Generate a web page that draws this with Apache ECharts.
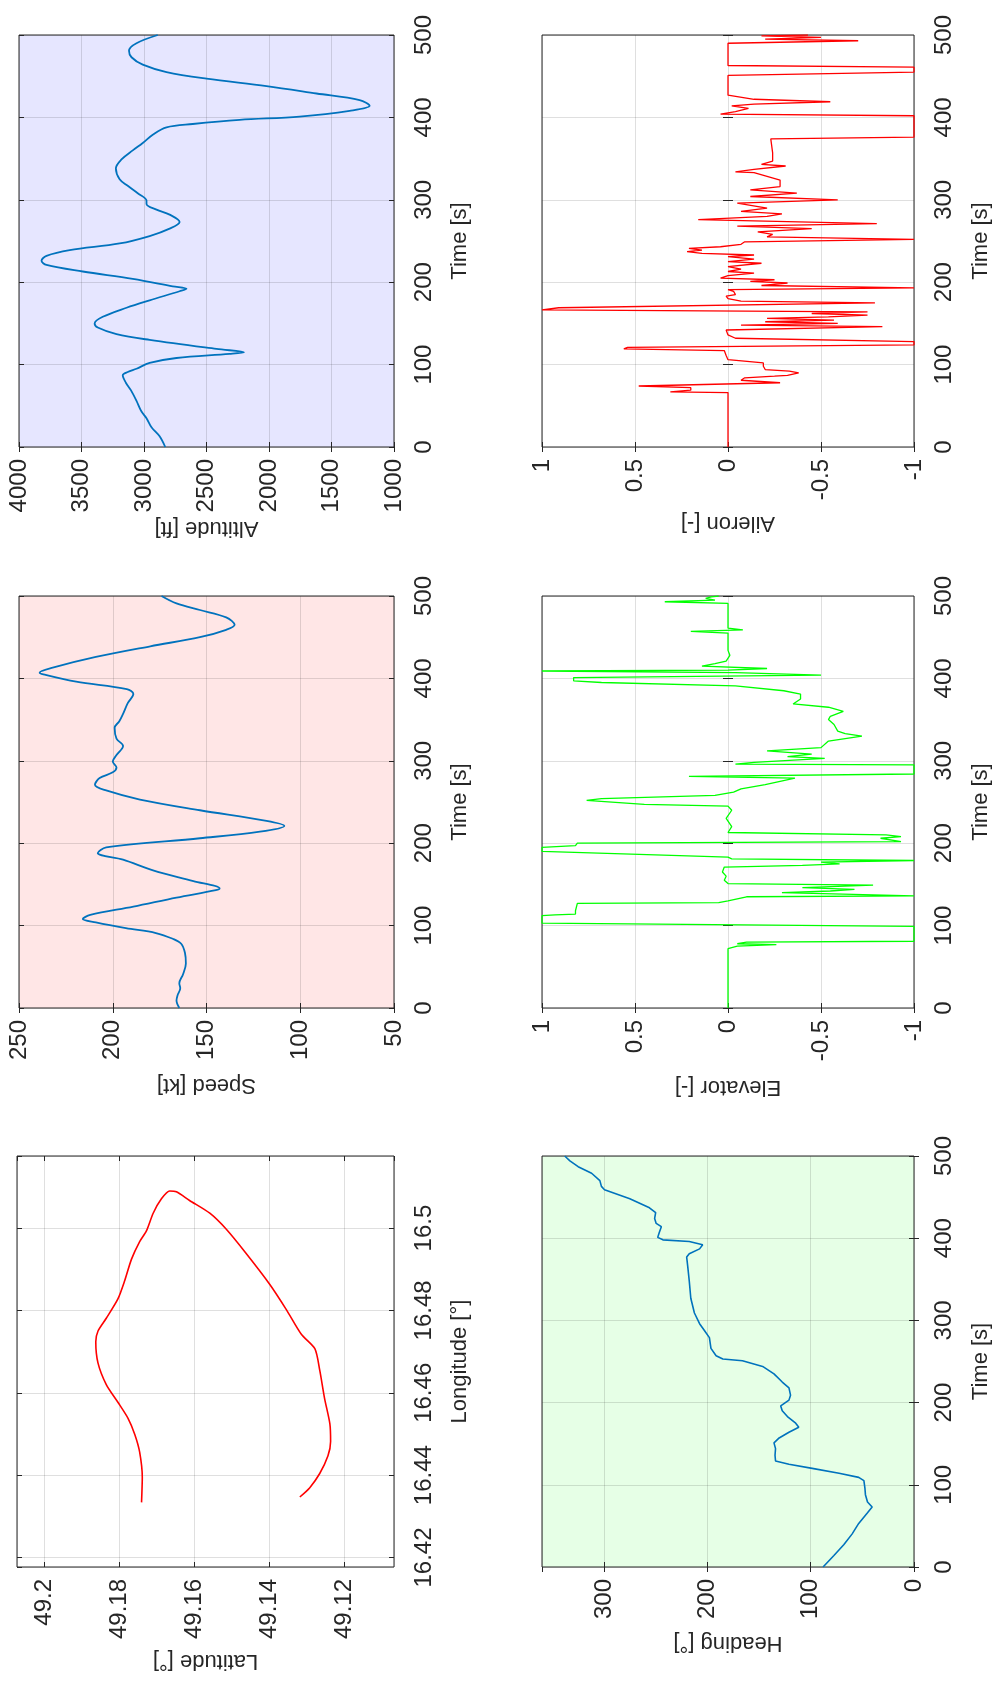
<!DOCTYPE html>
<html>
<head>
<meta charset="utf-8">
<title>Flight log</title>
<script src="https://cdn.jsdelivr.net/npm/echarts@6/dist/echarts.min.js"></script>
<style>
  html, body { margin: 0; padding: 0; background: #fff; }
  #chart { width: 993px; height: 1685px; }
</style>
</head>
<body>
<div id="chart"></div>
<script>
// values (time in s)
const altTime = [0, 13, 24, 35, 43, 56, 69, 78, 87, 91, 95, 102, 108, 113, 115, 119, 130, 137, 145, 150, 158, 169, 178, 189, 192, 195, 204, 213, 221, 226, 232, 239, 247, 256, 265, 273, 282, 288, 295, 299, 308, 317, 325, 338, 349, 360, 369, 379, 388, 392, 397, 401, 408, 414, 421, 429, 438, 447, 455, 464, 473, 481, 490, 500]
const altValue = [2830, 2875, 2940, 2980, 3020, 3060, 3105, 3145, 3170, 3130, 3060, 2955, 2740, 2315, 2200, 2420, 2955, 3220, 3370, 3395, 3330, 3140, 2955, 2715, 2660, 2770, 3090, 3490, 3780, 3820, 3780, 3595, 3195, 2955, 2795, 2715, 2795, 2900, 2980, 2980, 3050, 3130, 3195, 3225, 3180, 3090, 3010, 2930, 2820, 2610, 2235, 1755, 1355, 1195, 1275, 1620, 2020, 2500, 2820, 3010, 3100, 3120, 3060, 2890]

const spdTime = [0, 9, 15, 24, 30, 41, 54, 67, 78, 84, 91, 97, 104, 108, 113, 123, 134, 143, 145, 154, 167, 180, 188, 195, 206, 214, 221, 227, 240, 253, 264, 271, 279, 286, 292, 299, 307, 318, 327, 340, 348, 357, 370, 381, 387, 396, 405, 407, 413, 426, 439, 450, 459, 465, 474, 483, 491, 500]
const spdValue = [164.5, 166, 165.5, 164, 164.5, 162.5, 161, 161.5, 163.5, 168, 177, 193, 209, 216, 212, 189, 166, 145, 143, 157, 178.5, 194.5, 208, 203.5, 153.5, 121.5, 108.5, 118, 153.5, 185.5, 203.5, 209.5, 207, 200, 198, 200, 198, 194.5, 198, 199, 196.5, 194.5, 192, 189, 192.5, 219.5, 237, 239, 232, 209, 180, 153.5, 139.5, 135, 139.5, 153.5, 166, 174]

const hdgTime = [0, 14, 27, 40, 53, 66, 73, 79, 88, 96, 105, 109, 114, 120, 125, 129, 136, 144, 151, 157, 164, 170, 175, 183, 190, 196, 203, 209, 218, 225, 235, 244, 251, 253, 257, 266, 279, 288, 296, 309, 327, 348, 366, 377, 381, 387, 392, 396, 398, 401, 407, 414, 418, 424, 431, 437, 448, 459, 463, 470, 479, 487, 494, 500]
const hdgValue = [88, 77.5, 68, 60, 53.5, 45, 40.5, 45, 47, 47.5, 48.5, 53.5, 72.5, 98.5, 121, 134, 134.5, 134, 135.5, 130.5, 121, 111.5, 114.5, 122.5, 127.5, 129, 121, 119.5, 121, 127.5, 135.5, 146.5, 166, 185, 191.5, 196.5, 198, 203, 207.5, 212.5, 216, 217.5, 219, 220, 217.5, 207.5, 204.5, 217.5, 243, 248, 246.5, 244.5, 249.5, 251, 250, 256, 275, 299.5, 302.5, 304, 312, 325, 333, 338]

const elevTime = [0, 72, 75, 77, 78, 80, 81, 99, 103, 112, 113, 114, 118, 127, 128, 130, 135, 136, 140, 142, 144, 146, 149, 151, 155, 160, 165, 171, 173, 175, 177, 179, 181, 183, 190, 195, 197, 200, 202, 206, 208, 210, 213, 220, 230, 240, 245, 247, 252, 254, 258, 262, 266, 271, 279, 281, 284, 295, 296, 298, 303, 305, 308, 312, 316, 324, 330, 333, 336, 344, 350, 354, 360, 365, 369, 375, 381, 385, 391, 395, 397, 401, 404, 407, 409, 410, 412, 415, 418, 421, 428, 434, 455, 457, 459, 461, 491, 493, 495, 497, 499, 500]
const elevValue = [0, 0, -0.05, -0.26, -0.05, -0.1, -1, -1, 1, 1, 0.93, 0.82, 0.82, 0.81, 0.05, 0, -0.1, -1, -0.29, -0.55, -0.68, -0.4, -0.78, 0, 0.02, 0.01, 0.03, 0.02, -0.4, -0.6, -0.5, -1, -0.02, 0, 1, 1, 0.82, 0.81, -0.93, -0.82, -0.93, -0.85, 0, -0.02, 0.01, -0.02, 0, 0.45, 0.76, 0.68, 0.07, -0.03, -0.07, -0.2, -0.36, 0.21, -1, -1, -0.04, -0.14, -0.52, -0.32, -0.45, -0.21, -0.5, -0.54, -0.72, -0.63, -0.59, -0.57, -0.54, -0.55, -0.62, -0.54, -0.35, -0.39, -0.39, -0.3, -0.04, 0.68, 0.83, 0.83, -0.5, -0.04, 1, 0, -0.21, 0.14, 0.07, 0.01, -0.01, 0, 0, 0.2, -0.08, 0, 0, 0.34, 0.07, 0.12, 0.09, 0.05]

const ailTime = [0, 66, 67, 69, 72, 74, 76, 78, 81, 84, 86, 87, 90, 92, 94, 98, 102, 106, 111, 117, 119, 121, 124, 128, 132, 136, 142, 146, 148, 150, 152, 154, 156, 158, 160, 162, 164, 166.5, 169, 175, 177, 180, 183, 185, 189, 191, 193, 196, 199, 201, 203, 205, 208, 211, 213, 216, 219, 223, 225, 228, 231, 233, 235, 237, 239, 241, 243, 246, 249, 252, 255, 258, 261, 265, 268, 271, 276, 280, 283, 286, 290, 296, 300, 304, 308, 312, 316, 324, 333, 334, 337, 341, 343, 347, 357, 374, 376, 402, 404, 407, 411, 414, 416, 419, 422, 427, 451, 455, 461, 463, 490, 493, 495, 497, 499, 500]
const ailValue = [0, 0, 0.31, 0.2, 0.2, 0.48, 0.47, -0.28, -0.07, -0.09, -0.25, -0.32, -0.38, -0.33, -0.2, -0.19, -0.19, 0, 0.01, 0.02, 0.56, 0.54, -1, -1, -0.04, 0, 0.01, -0.83, -0.07, -0.59, -0.2, -0.57, -0.21, -0.54, -0.75, -0.45, -0.75, 1, 0.91, -0.79, -0.07, 0, 0.01, -0.04, -0.03, 0, -1, -0.18, -0.32, -0.12, -0.25, 0.04, 0, -0.14, 0, -0.07, 0, -0.18, 0, -0.14, 0, -0.14, 0.14, 0.22, 0.14, 0.21, 0.04, -0.07, -0.09, -1, -0.21, -0.24, -0.16, -0.45, -0.05, -0.8, 0.16, -0.21, -0.29, -0.07, -0.21, -0.05, -0.59, -0.12, -0.37, -0.12, -0.28, -0.28, -0.14, -0.04, -0.14, -0.31, -0.18, -0.24, -0.24, -0.23, -1, -1, 0.04, -0.04, -0.11, -0.02, -0.14, -0.55, -0.14, 0, 0, -1, -1, 0, 0, -0.7, -0.2, -0.5, -0.18, -0.43]

// ground track
const lonValue = [16.4334, 16.4395, 16.4456, 16.4499, 16.4538, 16.4577, 16.4620, 16.4672, 16.4724, 16.4750, 16.4781, 16.4828, 16.4872, 16.4924, 16.4967, 16.4993, 16.5036, 16.5071, 16.5090, 16.5088, 16.5067, 16.5036, 16.4997, 16.4937, 16.4863, 16.4802, 16.4742, 16.4707, 16.4655, 16.4586, 16.4525, 16.4482, 16.4447, 16.4404, 16.4369, 16.4347]
const latValue = [49.1740, 49.1738, 49.1745, 49.1758, 49.1776, 49.1803, 49.1834, 49.1856, 49.1862, 49.1856, 49.1834, 49.1803, 49.1785, 49.1767, 49.1745, 49.1727, 49.1709, 49.1687, 49.1665, 49.1647, 49.1612, 49.1558, 49.1514, 49.1460, 49.1398, 49.1354, 49.1314, 49.1278, 49.1265, 49.1252, 49.1238, 49.1236, 49.1243, 49.1265, 49.1292, 49.1318]
const latRange = [49.1067, 49.2072]
const lonRange = [16.4177, 16.5175]

const TEXT = '#262626'
const BOX = '#262626'
const GRID_LINE = 'rgba(38, 38, 38, 0.15)'
const FONT = 'Liberation Sans'
const BLUE = '#0072BD'

// figure is printed rotated: the quantity runs along the bottom (reversed),
// time runs up the right-hand side
const pairs = (vals, ts) => ts.map((t, i) => [vals[i], t])
const plainNumber = (v) => String(+v.toFixed(6))

const panels = [
  { left: 19, top: 35, width: 375, height: 412, bg: '#E6E6FF',
    xName: 'Altitude [ft]', xMin: 1000, xMax: 4000, xStep: 500, xGap: 70,
    data: pairs(altValue, altTime), color: BLUE, width_: 1.8, smooth: 0.35 },
  { left: 19, top: 596, width: 375, height: 412, bg: '#FFE6E6',
    xName: 'Speed [kt]', xMin: 50, xMax: 250, xStep: 50, xGap: 66,
    data: pairs(spdValue, spdTime), color: BLUE, width_: 1.8, smooth: 0.35 },
  { left: 17, top: 1156, width: 377, height: 411, bg: '#FFFFFF',
    xName: 'Latitude [°]', xMin: latRange[0], xMax: latRange[1], xGap: 83, xEdge: [false, false],
    yName: 'Longitude [°]', yMin: lonRange[0], yMax: lonRange[1], yEdge: [false, false],
    data: pairs(latValue, lonValue), color: '#FF0000', width_: 1.6, smooth: 0.25 },
  { left: 542, top: 35, width: 372, height: 412, bg: '#FFFFFF',
    xName: 'Aileron [-]', xMin: -1, xMax: 1, xStep: 0.5, xGap: 65,
    data: pairs(ailValue, ailTime), color: '#FF0000', width_: 1.3 },
  { left: 542, top: 596, width: 372, height: 412, bg: '#FFFFFF',
    xName: 'Elevator [-]', xMin: -1, xMax: 1, xStep: 0.5, xGap: 68,
    data: pairs(elevValue, elevTime), color: '#00FF00', width_: 1.3 },
  { left: 542, top: 1156, width: 372, height: 411, bg: '#E6FFE6',
    xName: 'Heading [°]', xMin: 0, xMax: 360, xStep: 100, xGap: 65, xEdge: [true, false],
    data: pairs(hdgValue, hdgTime), color: BLUE, width_: 1.6 }
]

const option = { animation: false, backgroundColor: '#fff', grid: [], xAxis: [], yAxis: [], series: [] }

const tickStyle = { inside: true, length: 5, lineStyle: { color: BOX, width: 1 } }
const labelStyle = { color: TEXT, fontSize: 24, fontFamily: FONT, formatter: plainNumber }
const nameStyle = { color: TEXT, fontSize: 22, fontFamily: FONT }

panels.forEach((p, i) => {
  option.grid.push({
    left: p.left, top: p.top, width: p.width, height: p.height,
    show: true, backgroundColor: p.bg, borderColor: BOX, borderWidth: 1,
    containLabel: false, outerBoundsMode: 'none'
  })

  const xEdge = p.xEdge || [true, true]
  const yEdge = p.yEdge || [true, true]
  const xBase = { gridIndex: i, type: 'value', inverse: true, min: p.xMin, max: p.xMax, interval: p.xStep }
  const yBase = { gridIndex: i, type: 'value',
    min: p.yMin ?? 0, max: p.yMax ?? 500, interval: p.yName ? undefined : 100 }

  option.xAxis.push({
    ...xBase, position: 'bottom',
    name: p.xName, nameLocation: 'middle', nameRotate: 180, nameGap: p.xGap,
    nameMoveOverlap: false, nameTextStyle: nameStyle,
    axisLine: { show: false },
    axisTick: tickStyle,
    axisLabel: { ...labelStyle, rotate: 90, margin: 12, showMinLabel: xEdge[0], showMaxLabel: xEdge[1] },
    splitLine: { show: true, lineStyle: { color: GRID_LINE, width: 1 } }
  })
  option.xAxis.push({
    ...xBase, position: 'top',
    axisLine: { show: false }, axisTick: tickStyle,
    axisLabel: { show: false }, splitLine: { show: false }
  })

  option.yAxis.push({
    ...yBase, position: 'right',
    name: p.yName || 'Time [s]', nameLocation: 'middle', nameRotate: 90, nameGap: i < 3 ? 55 : 56,
    nameMoveOverlap: false, nameTextStyle: nameStyle,
    axisLine: { show: false },
    axisTick: tickStyle,
    axisLabel: { ...labelStyle, rotate: 90, margin: 18, showMinLabel: yEdge[0], showMaxLabel: yEdge[1] },
    splitLine: { show: true, lineStyle: { color: GRID_LINE, width: 1 } }
  })
  option.yAxis.push({
    ...yBase, position: 'left',
    axisLine: { show: false }, axisTick: tickStyle,
    axisLabel: { show: false }, splitLine: { show: false }
  })

  option.series.push({
    type: 'line',
    xAxisIndex: 2 * i, yAxisIndex: 2 * i,
    data: p.data,
    showSymbol: false,
    smooth: p.smooth || false,
    silent: true,
    lineStyle: { color: p.color, width: p.width_ },
    itemStyle: { color: p.color }
  })
})

const chart = echarts.init(document.getElementById('chart'), null, { renderer: 'canvas' })
chart.setOption(option)
</script>
</body>
</html>
